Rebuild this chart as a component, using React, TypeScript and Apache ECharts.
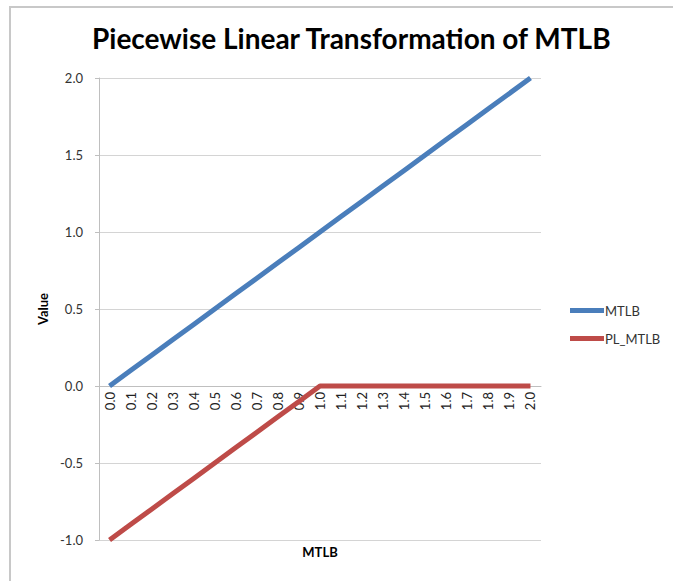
import React, { useEffect, useRef } from "react";
import * as echarts from "echarts";

const categories = ["0.0","0.1","0.2","0.3","0.4","0.5","0.6","0.7","0.8","0.9","1.0","1.1","1.2","1.3","1.4","1.5","1.6","1.7","1.8","1.9","2.0"];
const mtlb = [0, 0.1, 0.2, 0.3, 0.4, 0.5, 0.6, 0.7, 0.8, 0.9, 1.0, 1.1, 1.2, 1.3, 1.4, 1.5, 1.6, 1.7, 1.8, 1.9, 2.0];
const plMtlb = [-1.0, -0.9, -0.8, -0.7, -0.6, -0.5, -0.4, -0.3, -0.2, -0.1, 0, 0, 0, 0, 0, 0, 0, 0, 0, 0, 0];
const seriesNames = ["MTLB", "PL_MTLB"];
const titleText = "Piecewise Linear Transformation of MTLB";

const GRID_TOP = 78;
const GRID_BOTTOM = 41;
const CHART_H = 581;
const Y_MIN = -1;
const Y_MAX = 2;

export default function App() {
  const ref = useRef<HTMLDivElement>(null);
  useEffect(() => {
    if (!ref.current) return;
    const chart = echarts.init(ref.current, undefined, { renderer: "svg" });
    const font = "Lato, 'Open Sans', sans-serif";
    const gridH = CHART_H - GRID_TOP - GRID_BOTTOM;
    const zeroOffset = -(gridH * (0 - Y_MIN)) / (Y_MAX - Y_MIN);
    chart.setOption({
      animation: false,
      backgroundColor: "#ffffff",
      textStyle: { fontFamily: font },
      title: {
        text: titleText,
        left: 87,
        top: 19,
        textStyle: { fontFamily: font, fontSize: 28, fontWeight: "bold", color: "#000" },
      },
      legend: {
        orient: "vertical",
        left: 565,
        top: 299,
        itemGap: 15,
        itemWidth: 34,
        itemHeight: 5,
        icon: "rect",
        data: seriesNames,
        textStyle: { fontFamily: font, fontSize: 13, color: "#333", padding: [0, 0, 0, -4] },
      },
      grid: { left: 99, right: 132, top: GRID_TOP, bottom: GRID_BOTTOM, containLabel: false },
      xAxis: {
        type: "category",
        data: categories,
        boundaryGap: true,
        offset: zeroOffset,
        axisLine: { onZero: false, lineStyle: { color: "#bfbfbf", width: 1 } },
        axisTick: { show: false },
        axisLabel: { rotate: 90, margin: 6, fontSize: 13, color: "#222", fontFamily: font, interval: 0 },
        splitLine: { show: false },
      },
      yAxis: {
        type: "value",
        min: Y_MIN,
        max: Y_MAX,
        interval: 0.5,
        name: "Value",
        nameLocation: "middle",
        nameGap: 48,
        nameTextStyle: { fontFamily: font, fontSize: 13, fontWeight: "bold", color: "#000" },
        axisLine: { show: true, lineStyle: { color: "#bfbfbf" } },
        axisTick: { show: true, inside: false, length: 4, lineStyle: { color: "#bfbfbf" } },
        axisLabel: { margin: 16, fontSize: 13, color: "#333", fontFamily: font, formatter: (v: number) => v.toFixed(1) },
        splitLine: { show: true, lineStyle: { color: "#d4d4d4", width: 1 } },
      },
      graphic: [
        {
          type: "rect",
          shape: { x: 10, y: 7, width: 700, height: 620 },
          style: { fill: "none", stroke: "#c8c8c8", lineWidth: 2 },
          silent: true,
        },
        {
          type: "text",
          x: 320,
          y: 552,
          style: { text: "MTLB", fontFamily: font, fontSize: 13, fontWeight: "bold", fill: "#000", textAlign: "center", textVerticalAlign: "middle" },
        },
      ],
      series: [
        {
          name: seriesNames[0],
          type: "line",
          data: mtlb,
          symbol: "none",
          lineStyle: { width: 5, color: "#4A7EBB" },
          itemStyle: { color: "#4A7EBB" },
        },
        {
          name: seriesNames[1],
          type: "line",
          data: plMtlb,
          symbol: "none",
          lineStyle: { width: 5, color: "#BE4B48" },
          itemStyle: { color: "#BE4B48" },
        },
      ],
    });
    return () => chart.dispose();
  }, []);
  return <div ref={ref} style={{ position: "absolute", left: 0, top: 0, width: 673, height: 581 }} />;
}
